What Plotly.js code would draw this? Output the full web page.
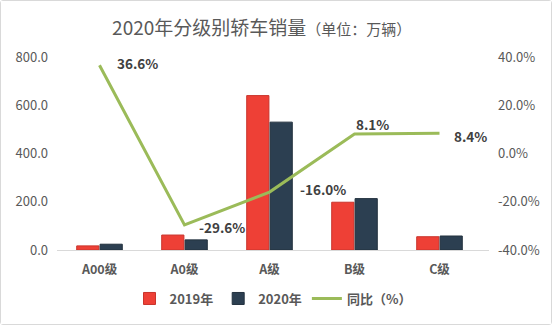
<!DOCTYPE html>
<html><head><meta charset="utf-8">
<script src="https://cdn.plot.ly/plotly-3.0.1.min.js"></script>
<style>
html,body{margin:0;padding:0;background:#fff;}
#chart{width:550px;height:323px;border:1px solid #D9D9D9;border-radius:3px;}
</style></head>
<body><div id="chart"></div>
<script>
const categories = ["A00级","A0级","A级","B级","C级"];
const sales2019 = [17, 62, 640, 198, 55];
const sales2020 = [24, 42, 530, 213, 58];
const yoy = [36.6, -29.6, -16.0, 8.1, 8.4];
const yoyLabels = ["36.6%","-29.6%","-16.0%","8.1%","8.4%"];
const leftTicks = [0,200,400,600,800];
const rightTicks = [-40,-20,0,20,40];

const fontCJK = '"Noto Sans CJK SC", "Open Sans", sans-serif';
const traces = [
  {type:'bar', name:'2019年', x:categories, y:sales2019,
   marker:{color:'#EE4036', line:{color:'#C9342C', width:1}}, hoverinfo:'skip'},
  {type:'bar', name:'2020年', x:categories, y:sales2020,
   marker:{color:'#2C3F51', line:{color:'#23323F', width:1}}, hoverinfo:'skip'},
  {type:'scatter', mode:'lines', name:'同比（%）', x:categories, y:yoy, yaxis:'y2',
   line:{color:'#9BBB59', width:3}, hoverinfo:'skip'}
];

const labelOffsets = [[38,2],[37,-2],[53,3],[18,10],[31,-3]];
const annotations = yoy.map((v,i)=>({
  x:categories[i], y:v, xref:'x', yref:'y2', text:yoyLabels[i], showarrow:false,
  xshift:labelOffsets[i][0], yshift:labelOffsets[i][1],
  font:{family:fontCJK, size:13.5, color:'#404040', weight:'bold'}
}));

const layout = {
  width:550, height:323,
  margin:{l:56, r:62, t:56, b:73},
  paper_bgcolor:'#fff', plot_bgcolor:'#fff',
  title:{text:'2020年分级别轿车销量<span style="font-size:15px">（单位：万辆）</span>',
    font:{family:fontCJK, size:19, color:'#595959'}, x:0.474, xanchor:'center', y:0.915, yanchor:'middle'},
  barmode:'group', bargap:0.45, bargroupgap:0.05,
  xaxis:{type:'category', showline:true, linecolor:'#D9D9D9', linewidth:1, ticks:'', ticklabelstandoff:8,
    tickfont:{family:fontCJK, size:12.5, color:'#595959', weight:'bold'}, fixedrange:true},
  yaxis:{range:[0,800], tickvals:leftTicks, ticktext:leftTicks.map(v=>v.toFixed(1)),
    showgrid:false, zeroline:false, showline:false, ticks:'', ticklabelstandoff:8,
    tickfont:{family:fontCJK, size:13, color:'#595959'}},
  yaxis2:{range:[-40,40], overlaying:'y', side:'right', tickvals:rightTicks,
    ticktext:rightTicks.map(v=>v.toFixed(1)+'%'), showgrid:false, zeroline:false, showline:false, ticks:'',
    ticklabelstandoff:8, tickfont:{family:fontCJK, size:13, color:'#595959'}},
  legend:{orientation:'h', x:0.5, xanchor:'center', y:-0.245, yanchor:'middle',
    font:{family:fontCJK, size:13, color:'#595959', weight:'bold'}},
  annotations:annotations,
  showlegend:true
};
Plotly.newPlot('chart', traces, layout, {displayModeBar:false, staticPlot:true});
</script></body></html>
